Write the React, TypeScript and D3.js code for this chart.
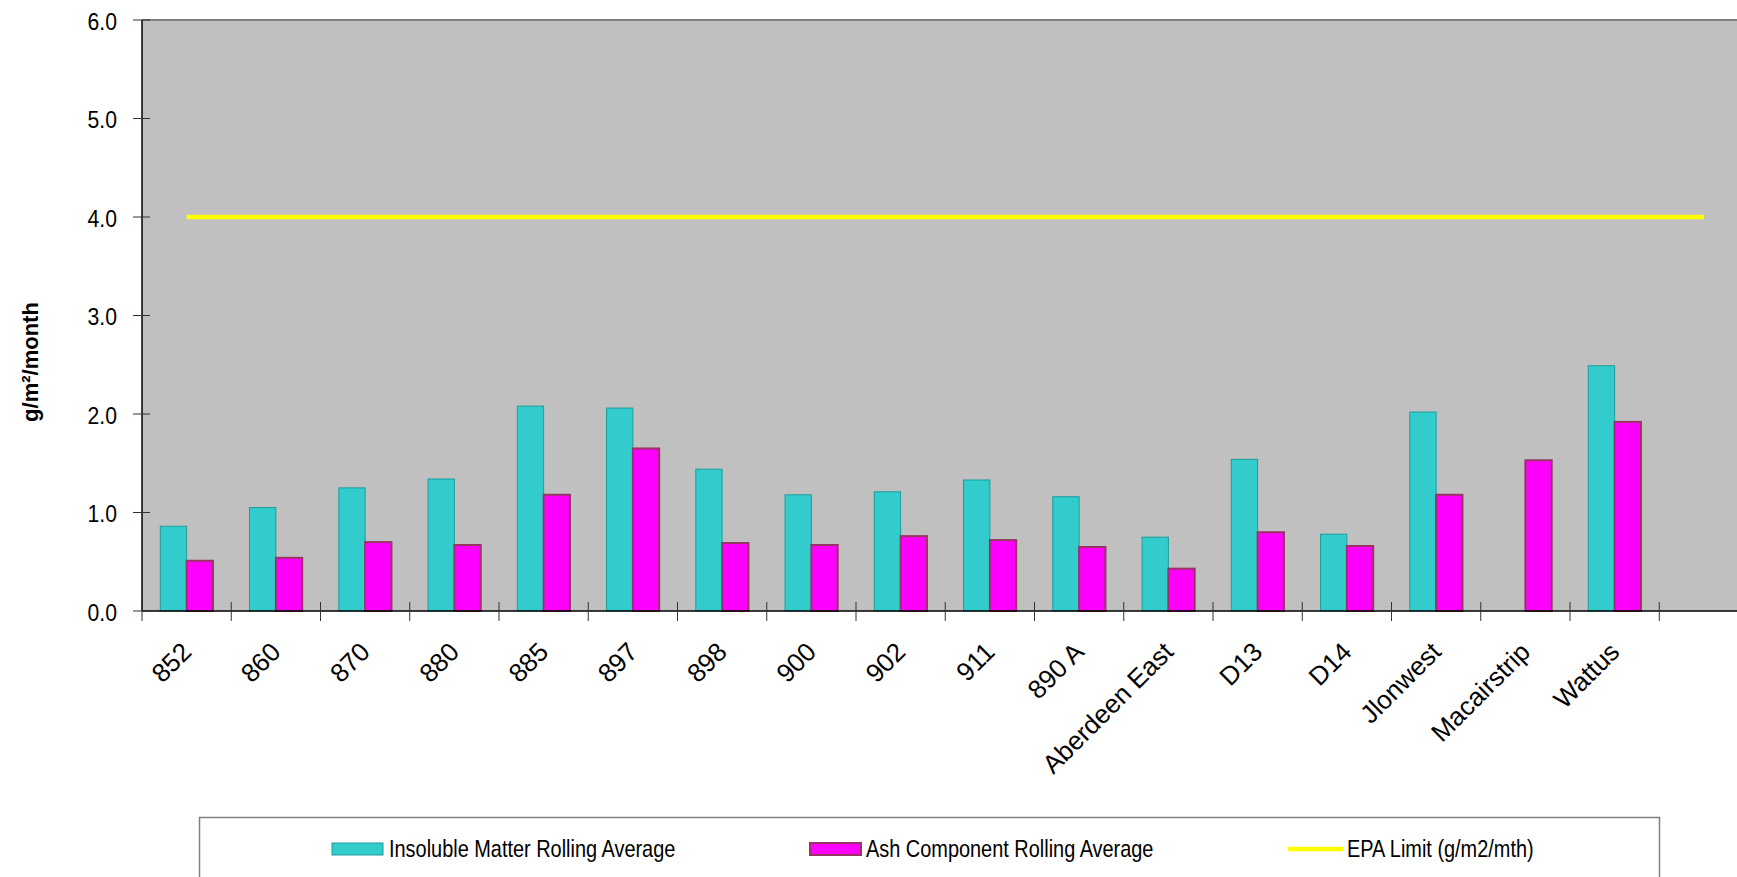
import React from 'react';
import * as d3 from 'd3';

// sites (last slot is an empty category, the EPA line runs through it)
const categories = ['852', '860', '870', '880', '885', '897', '898', '900', '902', '911', '890 A', 'Aberdeen East', 'D13', 'D14', 'Jlonwest', 'Macairstrip', 'Wattus', ''];
const insoluble = [0.86, 1.05, 1.25, 1.34, 2.08, 2.06, 1.44, 1.18, 1.21, 1.33, 1.16, 0.75, 1.54, 0.78, 2.02, null, 2.49, null];
const ash = [0.51, 0.54, 0.70, 0.67, 1.18, 1.65, 0.69, 0.67, 0.76, 0.72, 0.65, 0.43, 0.80, 0.66, 1.18, 1.53, 1.92, null];
const epaLimit = [4, 4, 4, 4, 4, 4, 4, 4, 4, 4, 4, 4, 4, 4, 4, 4, 4, 4];
const yTicks = [0, 1, 2, 3, 4, 5, 6];

const W = 1737;
const H = 877;
const left = 142;
const top = 20;
const bottom = 611;
const step = 89.25;

const FONT = '"Liberation Sans", Arial, sans-serif';

export default function App() {
  const x = d3.scaleBand<string>()
    .domain(categories.map((_, i) => String(i)))
    .range([left, left + categories.length * step])
    .paddingInner(0)
    .paddingOuter(0);
  const y = d3.scaleLinear().domain([0, 6]).range([bottom, top]);
  const bw = x.bandwidth() * 0.295;
  const right = left + categories.length * step;

  const line = d3.line<number>()
    .x((_, i) => x(String(i))! + x.bandwidth() / 2)
    .y(d => y(d));

  return (
    <svg width={W} height={H} style={{ position: 'absolute', left: 0, top: 0, background: '#fff' }} fontFamily={FONT}>
      <rect x={left} y={top} width={right - left} height={bottom - top} fill="#C0C0C0" />
      <line x1={left} x2={right} y1={top} y2={top} stroke="#808080" strokeWidth={2} />

      {categories.map((c, i) => {
        const cx = x(String(i))! + x.bandwidth() / 2;
        const v1 = insoluble[i];
        const v2 = ash[i];
        return (
          <g key={i}>
            {v1 != null && (
              <rect x={cx - bw} y={y(v1)} width={bw} height={bottom - y(v1)}
                fill="#33CCCC" stroke="#1E9C9C" strokeWidth={1} />
            )}
            {v2 != null && (
              <rect x={cx} y={y(v2)} width={bw} height={bottom - y(v2)}
                fill="#FF00FF" stroke="#993366" strokeWidth={2} />
            )}
          </g>
        );
      })}

      <path d={line(epaLimit) || ''} fill="none" stroke="#FFFF00" strokeWidth={4.5} />

      {/* axes */}
      <line x1={left} x2={left} y1={top} y2={bottom} stroke="#000" strokeWidth={1.5} />
      <line x1={left} x2={right} y1={bottom} y2={bottom} stroke="#000" strokeWidth={1.5} />
      {yTicks.map(t => (
        <g key={t}>
          <line x1={133} x2={150} y1={y(t)} y2={y(t)} stroke="#333" strokeWidth={1} />
          <text transform={`translate(117,${y(t) + 9.5}) scale(0.9,1)`} textAnchor="end" fontSize={23.5} fill="#000">{t.toFixed(1)}</text>
        </g>
      ))}
      {categories.map((c, i) => {
        const bx = x(String(i))!;
        const cx = bx + x.bandwidth() / 2;
        return (
          <g key={'t' + i}>
            <line x1={bx} x2={bx} y1={602} y2={621} stroke="#333" strokeWidth={1} />
            {c && (
              <text transform={`translate(${cx},647) rotate(-45)`} dy="0.35em" textAnchor="end" fontSize={26} fill="#000">{c}</text>
            )}
          </g>
        );
      })}
      <line x1={right} x2={right} y1={602} y2={621} stroke="#333" strokeWidth={1} />

      <text transform="translate(30,362) rotate(-90)" dy="0.35em" textAnchor="middle" fontSize={22} fontWeight="bold" fill="#000">g/m²/month</text>

      {/* legend */}
      <rect x={199.5} y={817.5} width={1460} height={120} fill="#fff" stroke="#808080" strokeWidth={1.5} />
      <rect x={332} y={843} width={51} height={12} fill="#33CCCC" stroke="#1E9C9C" strokeWidth={1} />
      <text transform="translate(389,857) scale(0.83,1)" fontSize={24} fill="#000">Insoluble Matter Rolling Average</text>
      <rect x={810} y={843} width={51} height={12} fill="#FF00FF" stroke="#993366" strokeWidth={2} />
      <text transform="translate(866,857) scale(0.83,1)" fontSize={24} fill="#000">Ash Component Rolling Average</text>
      <line x1={1288} x2={1343} y1={849} y2={849} stroke="#FFFF00" strokeWidth={4.5} />
      <text transform="translate(1347,857) scale(0.83,1)" fontSize={24} fill="#000">EPA Limit (g/m2/mth)</text>
    </svg>
  );
}
